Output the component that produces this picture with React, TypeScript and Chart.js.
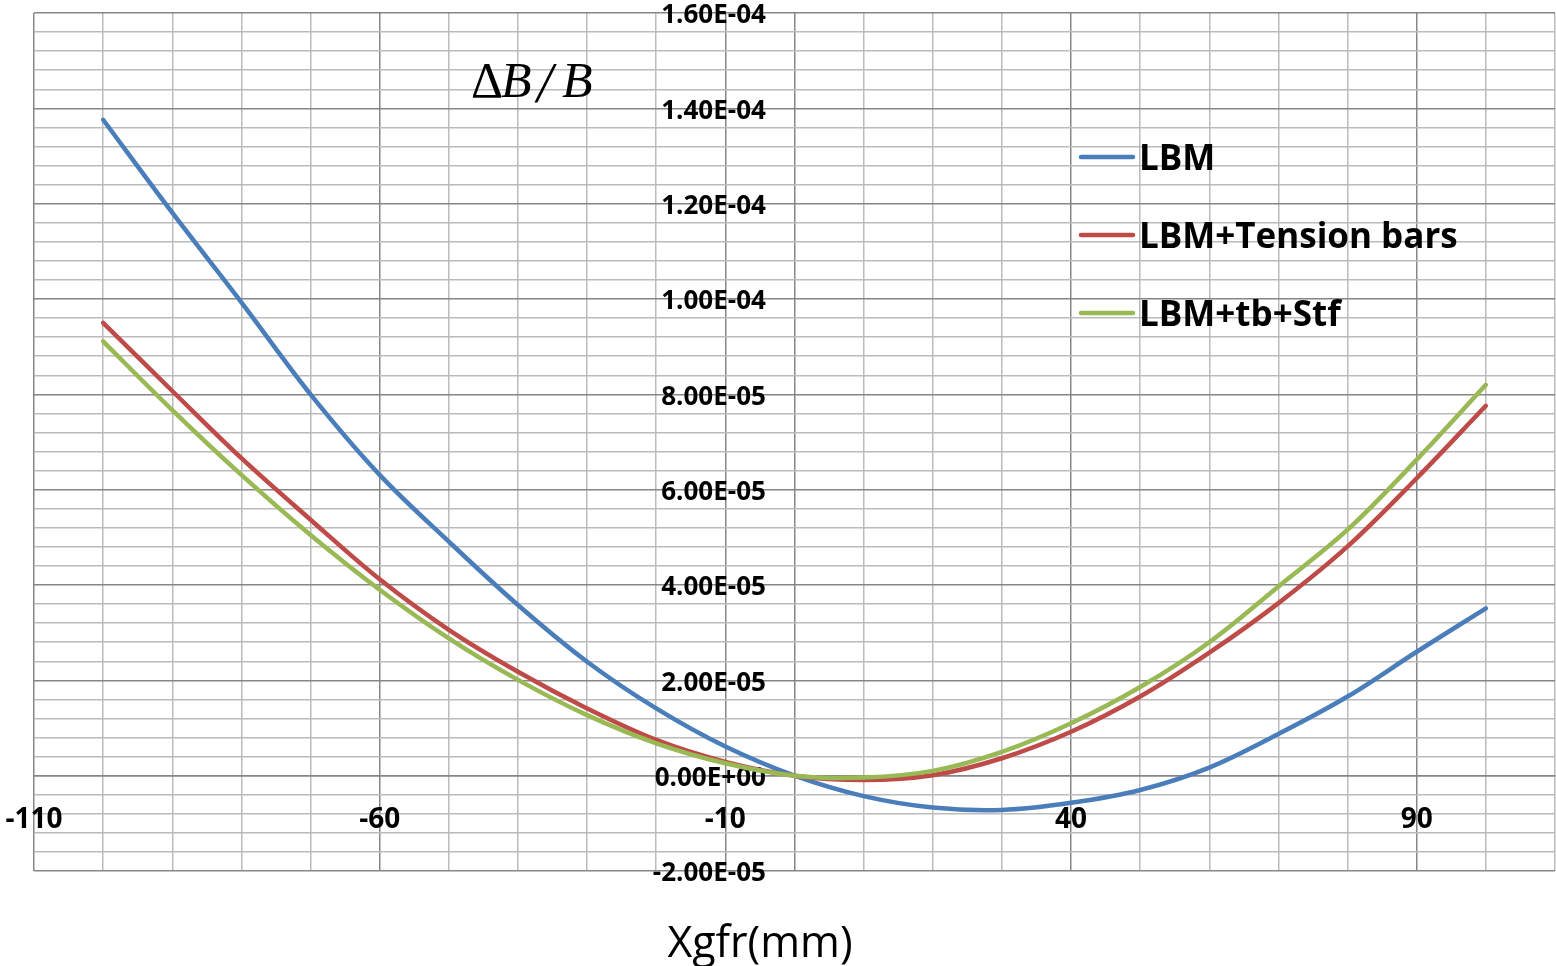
import React, { useEffect, useRef } from 'react';
import { Chart, registerables } from 'chart.js';

Chart.register(...registerables);

// ---- data ----
const xValues = [-100, -90, -80, -70, -60, -50, -40, -30, -20, -10, 0, 10, 20, 30, 40, 50, 60, 70, 80, 90, 100];
const lbm = [1.376e-4, 1.181e-4, 9.93e-5, 8.0e-5, 6.31e-5, 4.91e-5, 3.58e-5, 2.39e-5, 1.41e-5, 6.1e-6, 0, -4.3e-6, -6.7e-6, -7.2e-6, -5.7e-6, -3.0e-6, 1.7e-6, 8.75e-6, 1.66e-5, 2.6e-5, 3.51e-5];
const lbmTension = [9.5e-5, 8.07e-5, 6.66e-5, 5.37e-5, 4.12e-5, 3.06e-5, 2.18e-5, 1.41e-5, 7.5e-6, 2.9e-6, 0, -0.9e-6, 0.1e-6, 3.65e-6, 9.2e-6, 1.66e-5, 2.58e-5, 3.62e-5, 4.81e-5, 6.24e-5, 7.76e-5];
const lbmTbStf = [9.11e-5, 7.67e-5, 6.31e-5, 5.05e-5, 3.9e-5, 2.88e-5, 2.01e-5, 1.27e-5, 6.8e-6, 2.6e-6, 0, -0.4e-6, 1.0e-6, 5.0e-6, 1.1e-5, 1.86e-5, 2.8e-5, 3.97e-5, 5.16e-5, 6.63e-5, 8.2e-5];

const seriesNames = ['LBM', 'LBM+Tension bars', 'LBM+tb+Stf'];
const seriesColors = ['#4a7ebb', '#be4b48', '#98b954'];

// ---- axes / ticks ----
const xMin = -110;
const xMax = 110;
const xMinorStep = 10;
const xTickLabels = [-110, -60, -10, 40, 90];
const yTickLabels = [-2e-5, 0, 2e-5, 4e-5, 6e-5, 8e-5, 1e-4, 1.2e-4, 1.4e-4, 1.6e-4];
const yMinorPerMajor = 5;

const xTitle = 'Xgfr(mm)';

const MAJOR = '#868686';
const MINOR = '#bbbbbb';

function sci(v: number): string {
  if (Math.abs(v) < 1e-12) return '0.00E+00';
  const e = Math.floor(Math.log10(Math.abs(v)) + 1e-9);
  const m = v / Math.pow(10, e);
  return m.toFixed(2) + 'E' + (e < 0 ? '-' : '+') + String(Math.abs(e)).padStart(2, '0');
}
const isYMajor = (v: number) => yTickLabels.some((t) => Math.abs(t - v) < 1e-10);
const isXMajor = (v: number) => xTickLabels.some((t) => Math.abs(t - v) < 1e-9);

const overlayPlugin = {
  id: 'overlay',
  afterDraw(chart: any) {
    const ctx = chart.ctx as CanvasRenderingContext2D;
    ctx.save();
    ctx.fillStyle = '#000';
    ctx.textBaseline = 'alphabetic';
    ctx.textAlign = 'left';

    // ΔB/B annotation
    ctx.font = '50px "Liberation Serif"';
    ctx.fillText('Δ', 471, 97);
    ctx.font = 'italic 50px "Liberation Serif"';
    ctx.fillText('B', 501, 97);
    ctx.font = 'italic 56px "Liberation Serif"';
    ctx.fillText('/', 537, 102);
    ctx.font = 'italic 50px "Liberation Serif"';
    ctx.fillText('B', 562, 97);

    // x axis title
    ctx.font = '43px "Open Sans"';
    ctx.textAlign = 'center';
    ctx.fillText(xTitle, 760, 957);

    // legend
    const legendY = [157, 235, 313];
    ctx.textAlign = 'left';
    ctx.font = 'bold 35px "Open Sans"';
    seriesNames.forEach((name, i) => {
      ctx.strokeStyle = seriesColors[i];
      ctx.lineWidth = 4.5;
      ctx.lineCap = 'round';
      ctx.beginPath();
      ctx.moveTo(1081, legendY[i]);
      ctx.lineTo(1133, legendY[i]);
      ctx.stroke();
      ctx.fillText(name, 1139, legendY[i] + 12.5);
    });
    ctx.restore();
  },
};

export default function App() {
  const canvasRef = useRef<HTMLCanvasElement | null>(null);

  useEffect(() => {
    const canvas = canvasRef.current;
    if (!canvas) return;
    const seriesValues = [lbm, lbmTension, lbmTbStf];
    const chart = new Chart(canvas, {
      type: 'scatter',
      data: {
        datasets: seriesNames.map((name, i) => ({
          label: name,
          data: xValues.map((x, j) => ({ x, y: seriesValues[i][j] })),
          showLine: true,
          borderColor: seriesColors[i],
          backgroundColor: seriesColors[i],
          borderWidth: 4.5,
          pointRadius: 0,
          pointHoverRadius: 0,
          tension: 0.35,
          fill: false,
          order: 3 - i,
          borderCapStyle: 'round',
        })),
      },
      options: {
        responsive: false,
        animation: false,
        devicePixelRatio: 1,
        events: [],
        layout: { padding: { left: 34, top: 13, right: 1, bottom: 95 } },
        plugins: {
          legend: { display: false },
          tooltip: { enabled: false },
          title: { display: false },
        },
        scales: {
          x: {
            type: 'linear',
            min: xMin,
            max: xMax,
            position: { y: 0 },
            afterBuildTicks: (scale: any) => {
              const t = [];
              for (let v = xMin; v <= xMax + 1e-9; v += xMinorStep) t.push({ value: v });
              scale.ticks = t;
            },
            ticks: {
              autoSkip: false,
              maxRotation: 0,
              minRotation: 0,
              padding: 0,
              color: '#000',
              font: { family: '"Open Sans"', size: 28, weight: 'bold' },
              callback: (v: any) => (isXMajor(Number(v)) ? String(v) : ''),
            },
            grid: {
              color: (c: any) => (isXMajor(c.tick.value) || c.tick.value === 0 ? MAJOR : MINOR),
              lineWidth: 1.5,
              drawTicks: true,
              tickLength: 28,
              tickColor: 'rgba(0,0,0,0)',
            },
            border: { display: true, color: MAJOR, width: 1.5 },
          },
          y: {
            type: 'linear',
            min: yTickLabels[0],
            max: yTickLabels[yTickLabels.length - 1],
            position: { x: -4.14 },
            afterBuildTicks: (scale: any) => {
              const t = [];
              for (let i = 0; i < yTickLabels.length - 1; i++) {
                const a = yTickLabels[i];
                const b = yTickLabels[i + 1];
                for (let k = 0; k < yMinorPerMajor; k++) t.push({ value: a + ((b - a) * k) / yMinorPerMajor });
              }
              t.push({ value: yTickLabels[yTickLabels.length - 1] });
              scale.ticks = t;
            },
            ticks: {
              autoSkip: false,
              padding: 0,
              labelOffset: 3,
              color: '#000',
              font: { family: '"Open Sans"', size: 26, weight: 'bold', lineHeight: 1 },
              callback: (v: any) => (isYMajor(Number(v)) ? sci(Number(v)) : ''),
            },
            grid: {
              color: (c: any) => (isYMajor(c.tick.value) ? MAJOR : MINOR),
              lineWidth: 1.5,
              drawTicks: false,
            },
            border: { display: false },
          },
        },
      },
      plugins: [overlayPlugin],
    } as any);
    return () => chart.destroy();
  }, []);

  return (
    <div style={{ position: 'fixed', left: 0, top: 0, width: 1556, height: 966, background: '#fff' }}>
      <canvas ref={canvasRef} width={1556} height={966} style={{ width: 1556, height: 966, display: 'block' }} />
    </div>
  );
}
